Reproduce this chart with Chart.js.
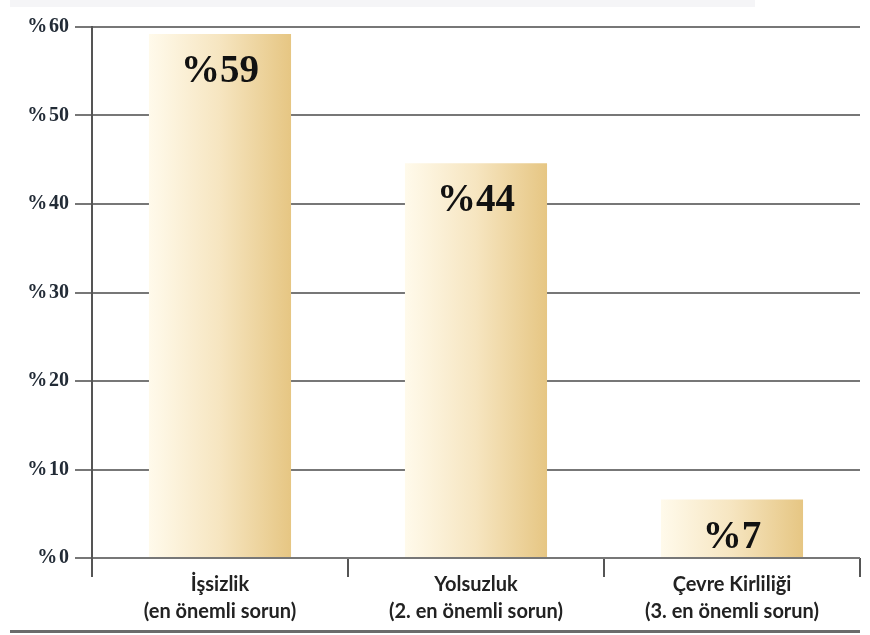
<!DOCTYPE html>
<html>
<head>
<meta charset="utf-8">
<script src="https://cdn.jsdelivr.net/npm/chart.js@4.4.1/dist/chart.umd.min.js"></script>
<style>
    body { margin: 0; background: #fff; }
    #wrap { position: relative; width: 870px; height: 635px; }
    #topband { position: absolute; left: 10px; top: 0; width: 745px; height: 7px; background: #f5f5f7; }
    #bottomline { position: absolute; left: 10px; top: 630px; width: 850px; height: 3px; background: #6b6b6b; }
</style>
</head>
<body>
<div id="wrap">
    <canvas id="chart" width="870" height="635"></canvas>
    <div id="topband"></div>
    <div id="bottomline"></div>
</div>
<script>
const categories = [
    ['İşsizlik', '(en önemli sorun)'],
    ['Yolsuzluk', '(2. en önemli sorun)'],
    ['Çevre Kirliliği', '(3. en önemli sorun)']
];
const values = [59.2, 44.6, 6.6];
const valueLabels = ['%59', '%44', '%7'];
const yTicks = [0, 10, 20, 30, 40, 50, 60];

const barPct = 0.555;

function barGradient(ctx) {
    const chart = ctx.chart;
    if (!chart.chartArea) return '#f0dcaa';
    const xs = chart.scales.x;
    const cx = xs.getPixelForValue(ctx.dataIndex);
    const w = xs.width / categories.length * barPct;
    const g = chart.ctx.createLinearGradient(cx - w / 2, 0, cx + w / 2, 0);
    g.addColorStop(0, '#fffaeb');
    g.addColorStop(0.5, '#f6e5c0');
    g.addColorStop(1, '#e6c683');
    return g;
}

const valueLabelPlugin = {
    id: 'valueLabels',
    afterDatasetsDraw(chart) {
        const ctx = chart.ctx;
        const meta = chart.getDatasetMeta(0);
        ctx.save();
        ctx.font = 'bold 39px "Liberation Serif", serif';
        ctx.fillStyle = '#111';
        ctx.textAlign = 'center';
        ctx.textBaseline = 'middle';
        meta.data.forEach((bar, i) => {
            ctx.fillText(valueLabels[i], bar.x, bar.y + 38);
        });
        ctx.restore();
    }
};

new Chart(document.getElementById('chart'), {
    type: 'bar',
    data: {
        labels: categories,
        datasets: [{
            data: values,
            backgroundColor: barGradient,
            borderWidth: 0,
            categoryPercentage: 1,
            barPercentage: barPct
        }]
    },
    options: {
        responsive: false,
        animation: false,
        layout: { padding: { top: 27, right: 10, left: 0, bottom: 0 } },
        plugins: {
            legend: { display: false },
            tooltip: { enabled: false }
        },
        scales: {
            x: {
                grid: {
                    offset: true,
                    drawOnChartArea: false,
                    color: '#555',
                    lineWidth: 2,
                    tickLength: 19
                },
                border: { display: false },
                ticks: {
                    color: '#222',
                    font: { family: 'Lato', weight: 'bold', size: 20, lineHeight: 1.35 },
                    padding: -6,
                    maxRotation: 0
                },
                afterFit(scale) { scale.height = 77; }
            },
            y: {
                min: 0,
                max: 60,
                afterBuildTicks(scale) {
                    scale.ticks = yTicks.map(v => ({ value: v }));
                },
                grid: {
                    color: '#777',
                    lineWidth: 2,
                    tickLength: 17
                },
                border: { display: true, color: '#555', width: 2 },
                ticks: {
                    color: '#222b36',
                    font: { family: 'Liberation Serif', weight: 'bold', size: 20 },
                    padding: 6,
                    callback: v => '%\u200a' + v
                },
                afterFit(scale) { scale.width = 92; }
            }
        }
    },
    plugins: [valueLabelPlugin]
});
</script>
</body>
</html>
